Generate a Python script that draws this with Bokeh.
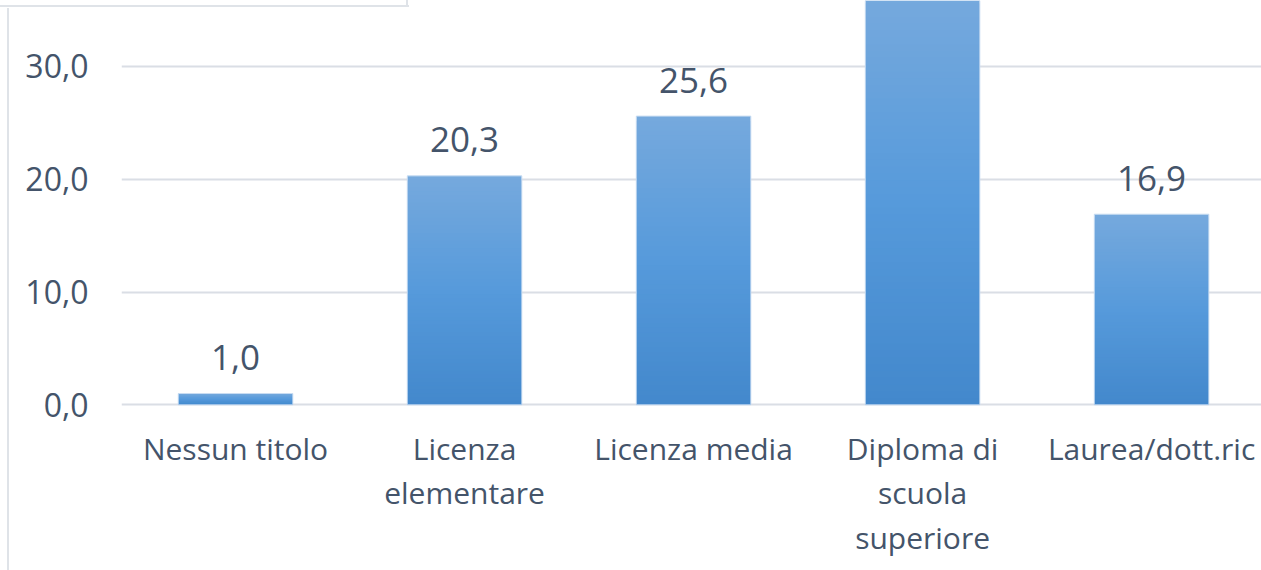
import numpy as np
from bokeh.plotting import figure
from bokeh.models import Range1d, FixedTicker, ColumnDataSource
from bokeh.core.properties import value
from bokeh.embed import file_html
from bokeh.resources import INLINE

# ---- data ----
categories = ["Nessun titolo", "Licenza\nelementare", "Licenza media",
              "Diploma di\nscuola\nsuperiore", "Laurea/dott.ric"]
values = [1.0, 20.3, 25.6, 36.2, 16.9]
y_ticks = [0, 10, 20, 30]
y_tick_labels = ["0,0", "10,0", "20,0", "30,0"]

FONT = "Open Sans"
TEXT = "#44546a"
GRID = "#dadee5"
BORDER = "#dfe3e8"
Y_TOP = 35.85

p = figure(width=1261, height=570, output_backend="svg", toolbar_location=None,
           x_range=Range1d(-0.498, 4.48), y_range=Range1d(-0.15, Y_TOP),
           min_border_left=121, min_border_right=0, min_border_top=0,
           min_border_bottom=164)
p.outline_line_color = None
p.background_fill_color = None
p.border_fill_color = None
p.xgrid.grid_line_color = None
p.ygrid.grid_line_color = GRID
p.ygrid.grid_line_width = 2
p.ygrid.ticker = FixedTicker(ticks=y_ticks)

xs = list(range(len(categories)))

# gradient bars: overlapping rectangles from 0, light at top, dark at bottom
stops_t = [0.0, 0.5, 1.0]
stops_c = [(0x43, 0x88, 0xcc), (0x56, 0x9a, 0xdb), (0x76, 0xa9, 0xdd)]
N = 60
sx, st, sc = [], [], []
for k in range(N - 1, -1, -1):
    t = (k + 0.5) / N
    rgb = [int(round(np.interp(t, stops_t, [c[i] for c in stops_c]))) for i in range(3)]
    col = "#%02x%02x%02x" % tuple(rgb)
    for x, v in zip(xs, values):
        sx.append(x)
        st.append(v * (k + 1) / N)
        sc.append(col)
p.vbar(x=sx, bottom=0, top=st, width=0.5, fill_color=sc, line_color=None)
p.vbar(x=xs, bottom=0, top=values, width=0.5, fill_color=None,
       line_color="#c9ddf2", line_width=1)

# value labels (the one above the visible area is not shown in the reference)
vis = [i for i, v in enumerate(values) if v < Y_TOP - 3.5]
labels = [("%.1f" % values[i]).replace(".", ",") for i in vis]
src = ColumnDataSource(dict(x=[xs[i] for i in vis], y=[values[i] for i in vis], t=labels))
p.text(x="x", y="y", text="t", source=src, text_align="center",
       text_baseline="alphabetic", y_offset=-36, text_color=TEXT,
       text_font=value(FONT), text_font_size="35px")

# axes
p.xaxis.ticker = FixedTicker(ticks=xs)
p.xaxis.major_label_overrides = {i: c for i, c in enumerate(categories)}
p.xaxis.axis_line_color = None
p.xaxis.major_tick_line_color = None
p.xaxis.minor_tick_line_color = None
p.xaxis.major_tick_out = 0
p.xaxis.major_tick_in = 0
p.xaxis.major_label_text_font = FONT
p.xaxis.major_label_text_font_size = "30px"
p.xaxis.major_label_text_color = TEXT
p.xaxis.major_label_text_line_height = 1.087
p.xaxis.major_label_standoff = 21

p.yaxis.ticker = FixedTicker(ticks=y_ticks)
p.yaxis.major_label_overrides = {t: l for t, l in zip(y_ticks, y_tick_labels)}
p.yaxis.axis_line_color = None
p.yaxis.major_tick_line_color = None
p.yaxis.minor_tick_line_color = None
p.yaxis.major_tick_out = 0
p.yaxis.major_tick_in = 0
p.yaxis.major_label_text_font = FONT
p.yaxis.major_label_text_font_size = "32px"
p.yaxis.major_label_text_color = TEXT
p.yaxis.major_label_standoff = 33

# thin chart-area borders seen at the top-left of the reference
p.styles = {
    "background": (
        f"linear-gradient({BORDER},{BORDER}) 7px 8px / 2px 562px no-repeat, "
        f"linear-gradient({BORDER},{BORDER}) 0px 5px / 409px 2px no-repeat, "
        f"linear-gradient({BORDER},{BORDER}) 406px 0px / 2px 7px no-repeat, "
        "white"
    )
}

open("out.html", "w").write(file_html(p, INLINE))
